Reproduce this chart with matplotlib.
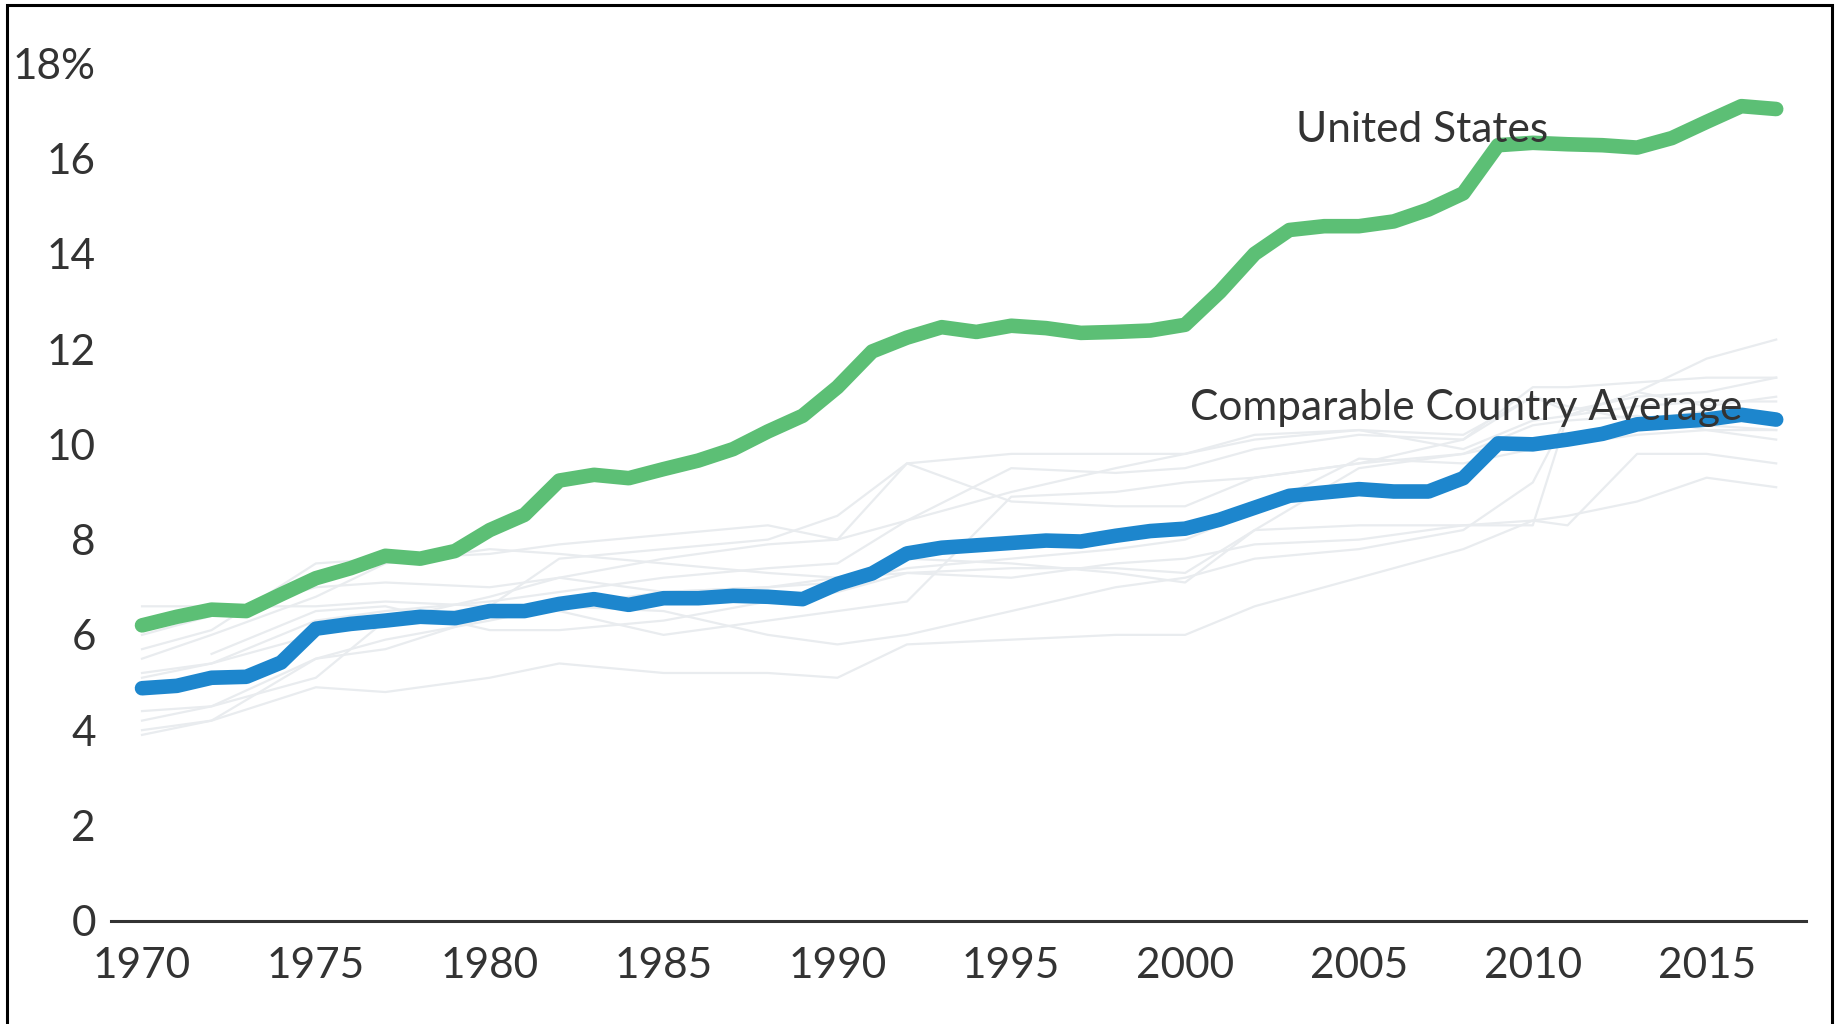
import matplotlib.pyplot as plt
import numpy as np
from matplotlib.patches import Rectangle

plt.rcParams['font.family'] = ['Lato', 'DejaVu Sans']

years = np.arange(1970, 2018)

us = [6.2, 6.38, 6.53, 6.5, 6.85, 7.19, 7.4, 7.66, 7.6, 7.76,
      8.2, 8.52, 9.24, 9.36, 9.29, 9.48, 9.66, 9.9, 10.27, 10.6,
      11.2, 11.95, 12.24, 12.46, 12.36, 12.49, 12.44, 12.34, 12.36, 12.39,
      12.51, 13.2, 14.0, 14.5, 14.58, 14.58, 14.68, 14.93, 15.27, 16.28,
      16.33, 16.3, 16.28, 16.23, 16.43, 16.77, 17.1, 17.04]

comparable_avg = [4.88, 4.93, 5.1, 5.12, 5.42, 6.13, 6.23, 6.3, 6.38, 6.35,
                  6.5, 6.5, 6.65, 6.75, 6.63, 6.77, 6.77, 6.82, 6.8, 6.75,
                  7.07, 7.29, 7.71, 7.83, 7.88, 7.93, 7.98, 7.96, 8.08, 8.18,
                  8.23, 8.42, 8.67, 8.92, 8.99, 9.06, 9.01, 9.01, 9.29, 10.02,
                  10.0, 10.1, 10.22, 10.42, 10.47, 10.52, 10.62, 10.52]

# individual comparable countries (faint background lines)
country_years = [1970, 1972, 1975, 1977, 1980, 1982, 1985, 1988, 1990, 1992, 1995,
                 1998, 2000, 2002, 2005, 2008, 2010, 2011, 2013, 2015, 2017]
switzerland = [5.1, 5.4, 6.3, 6.5, 6.7, 6.9, 7.2, 7.4, 7.5, 8.4, 9.0,
               9.5, 9.8, 10.2, 10.3, 9.9, 10.5, 10.6, 11.1, 11.8, 12.2]
germany = [5.7, 6.1, 7.5, 7.6, 7.7, 7.9, 8.1, 8.3, 8.0, 9.6, 9.8,
           9.8, 9.8, 10.1, 10.3, 10.2, 11.0, 10.7, 11.0, 11.1, 11.4]
france = [5.2, 5.4, 6.0, 6.3, 6.8, 7.2, 7.6, 7.9, 8.0, 8.4, 9.5,
          9.4, 9.5, 9.9, 10.2, 10.1, 11.2, 11.2, 11.3, 11.4, 11.4]
sweden = [5.5, 6.0, 6.8, 7.5, 7.8, 7.7, 7.5, 7.3, 7.2, 7.3, 7.4,
          7.4, 7.3, 8.2, 8.3, 8.3, 8.3, 10.6, 11.1, 10.8, 11.0]
japan = [4.4, 4.5, 5.5, 5.7, 6.4, 6.6, 6.5, 6.0, 5.8, 6.0, 6.5,
         7.0, 7.2, 7.6, 7.8, 8.2, 9.2, 10.6, 10.8, 10.9, 10.9]
canada = [6.6, 6.6, 6.6, 6.7, 6.6, 7.6, 7.8, 8.0, 8.5, 9.6, 8.8,
          8.7, 8.7, 9.3, 9.6, 10.1, 11.0, 10.8, 10.5, 10.7, 10.4]
netherlands = [6.0, 6.4, 7.0, 7.1, 7.0, 7.2, 6.9, 7.0, 7.2, 7.6, 7.5,
               7.3, 7.1, 8.2, 9.5, 9.8, 10.4, 10.5, 10.6, 10.3, 10.1]
austria = [4.2, 4.5, 5.1, 6.3, 6.6, 6.5, 6.0, 6.3, 6.5, 6.7, 8.9,
           9.0, 9.2, 9.3, 9.6, 9.8, 10.1, 10.0, 10.2, 10.3, 10.3]
belgium = [3.9, 4.2, 5.5, 5.9, 6.3, 6.6, 6.9, 7.0, 7.1, 7.4, 7.6,
           7.8, 8.0, 8.6, 9.7, 9.6, 9.9, 10.1, 10.3, 10.4, 10.3]
uk = [4.0, 4.2, 4.9, 4.8, 5.1, 5.4, 5.2, 5.2, 5.1, 5.8, 5.9,
      6.0, 6.0, 6.6, 7.2, 7.8, 8.4, 8.3, 9.8, 9.8, 9.6]
australia = [np.nan, 5.6, 6.5, 6.6, 6.1, 6.1, 6.3, 6.7, 6.9, 7.3, 7.2,
             7.5, 7.6, 7.9, 8.0, 8.3, 8.4, 8.5, 8.8, 9.3, 9.1]
countries = [switzerland, germany, france, sweden, japan, canada,
             netherlands, austria, belgium, uk, australia]

yticks = [0, 2, 4, 6, 8, 10, 12, 14, 16, 18]
ytick_labels = ['0', '2', '4', '6', '8', '10', '12', '14', '16', '18%']
xticks = [1970, 1975, 1980, 1985, 1990, 1995, 2000, 2005, 2010, 2015]

text_color = '#333333'

fig = plt.figure(figsize=(18.39, 10.24), dpi=100)
ax = fig.add_axes([0.0604, 0.1009, 0.9217, 0.8373])

for c in countries:
    ax.plot(country_years, c, color='#e9ecef', lw=1.6, zorder=1, clip_on=False)

ax.plot(years, us, color='#5cbf75', lw=10.5, solid_joinstyle='round',
        solid_capstyle='round', zorder=3, clip_on=False)
ax.plot(years, comparable_avg, color='#1d86cd', lw=10.5, solid_joinstyle='round',
        solid_capstyle='round', zorder=3, clip_on=False)

ax.text(2003.2, 16.6, 'United States', fontsize=30.5, color=text_color,
        ha='left', va='center', zorder=5)
ax.text(2000.15, 10.77, 'Comparable Country Average', fontsize=30.5, color=text_color,
        ha='left', va='center', zorder=5)

ax.set_xlim(1969.11, 2017.86)
ax.set_ylim(0, 18)
ax.set_yticks(yticks)
ax.set_yticklabels(ytick_labels)
ax.set_xticks(xticks)
ax.tick_params(axis='both', length=0, labelsize=30.5, labelcolor=text_color)
ax.tick_params(axis='y', pad=11)
ax.tick_params(axis='x', pad=19)

for s in ['top', 'right', 'left']:
    ax.spines[s].set_visible(False)
ax.spines['bottom'].set_color('#333333')
ax.spines['bottom'].set_linewidth(2.2)

# outer frame (bottom edge falls off the picture)
fig.patches.append(Rectangle((0.004, -0.02), 0.992, 1.015, transform=fig.transFigure,
                             fill=False, edgecolor='black', lw=2.2))

fig.savefig('out.png', dpi=100, facecolor='white')
